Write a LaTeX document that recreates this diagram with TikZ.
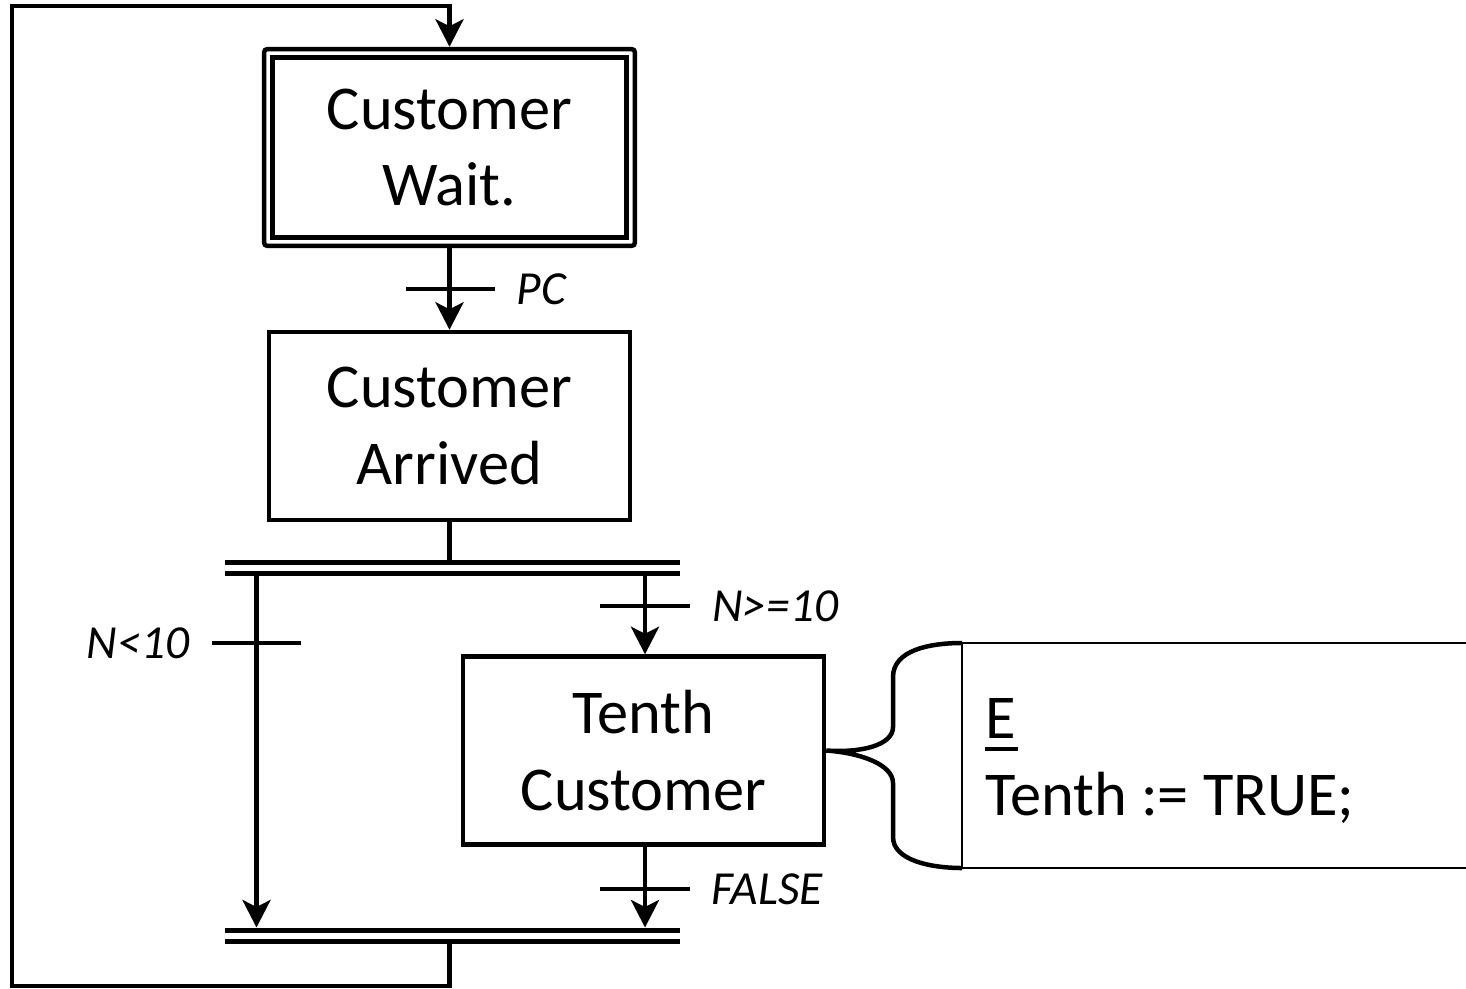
\documentclass[tikz,border=0pt]{standalone}
\usepackage{fontspec}
\setmainfont{Carlito}
\usetikzlibrary{arrows.meta,positioning}
\begin{document}
\begin{tikzpicture}[x=0.02cm,y=-0.02cm,
  wire/.style={line width=0.09cm},
  flow/.style={wire, -{Stealth[length=0.55cm,width=0.56cm,inset=0.14cm]}},
  stepbox/.style={draw, line width=0.09cm, minimum width=7.22cm, minimum height=3.76cm,
    align=center, inner sep=0, font=\fontsize{35.5}{43.5}\selectfont},
  tbar/.style={fill=black, minimum width=1.8cm, minimum height=0.09cm, inner sep=0, outer sep=0},
  divbar/.style={fill=black, minimum width=9.1cm, minimum height=0.1cm, inner sep=0, outer sep=0},
  lbl/.style={inner sep=0, font=\fontsize{27}{32}\selectfont\itshape},
  actionbox/.style={line width=0.04cm},
]
\useasboundingbox (0,0) rectangle (1466,988);

% initial step: rounded outer frame with a heavier inner frame
\node[stepbox, rounded corners=0.07cm, minimum width=7.42cm, minimum height=3.94cm] (s0)
  at (449.5,147.5) {Customer\\Wait.};
\draw[line width=0.1cm] ([shift={(10.5,-10.5)}]s0.south west) rectangle ([shift={(-10.5,10.5)}]s0.north east);

% ordinary steps
\node[stepbox] (s1) at (449.5,426) {Customer\\Arrived};
\node[stepbox] (s2) at (643.5,750.5) {Tenth\\Customer};

% divergence / convergence double lines
\node[divbar] (divA) at (452.5,562) {};
\node[divbar] (divB) at (452.5,573) {};
\node[divbar] (joinA) at (452.5,930) {};
\node[divbar] (joinB) at (452.5,941) {};

% transitions
\node[tbar] (t0) at (450.5,289) {};
\node[tbar] (t1) at (645,606) {};
\node[tbar] (t2) at (256.5,643) {};
\node[tbar] (t3) at (645,889) {};

\node[lbl, right=0.42cm of t0] (l0) {PC};
\node[lbl, right=0.44cm of t1] (l1) {N>=10};
\node[lbl, left=0.44cm of t2] (l2) {N<10};
\node[lbl, right=0.42cm of t3] (l3) {FALSE};

% links between steps
\draw[flow] (s0.south) -- (s1.north);
\draw[wire] (s1.south) -- (s1.south |- divA.north);
\draw[flow] (divB.south -| t2) -- (joinA.north -| t2);
\draw[flow] (divB.south -| t1) -- (t1 |- s2.north);
\draw[flow] (t3 |- s2.south) -- (joinA.north -| t3);

% return loop to the initial step
\coordinate (lpBL) at (12,986);
\coordinate (lpTL) at (12,6);
\draw[flow] (joinB.south -| s0.north) |- (lpBL) -- (lpTL) -| (s0.north);

% action block attached to the step by a brace
\coordinate (actTL) at (962,643);
\coordinate (actBL) at (962,868);
\coordinate (actTR) at (1466,643);
\coordinate (actBR) at (1466,868);
\draw[actionbox] (actTR) -- (actTL) -- (actBL) -- (actBR);
\draw[wire] (actTL) .. controls (930,643) and (893,650) .. (893,677) -- (893,727)
  .. controls (893,745) and (862,753) .. (s2.east)
  .. controls (862,753) and (893,765) .. (893,783) -- (893,837)
  .. controls (893,860) and (930,868) .. (actBL);
\node[anchor=north west, inner sep=0, align=left, font=\fontsize{35.5}{44}\selectfont] (act)
  at (985,698) {\rlap{\rule[-0.21em]{0.52em}{0.07em}}E\\Tenth := TRUE;};
\end{tikzpicture}
\end{document}
